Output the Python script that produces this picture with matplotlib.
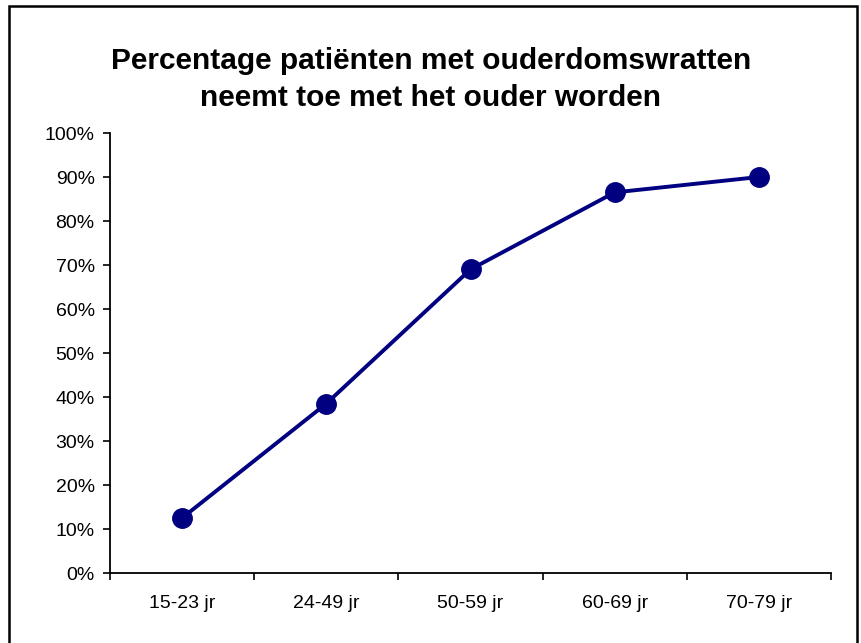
import matplotlib.pyplot as plt
from matplotlib.patches import Rectangle
from matplotlib.ticker import FuncFormatter, MultipleLocator

# Data
categories = ["15-23 jr", "24-49 jr", "50-59 jr", "60-69 jr", "70-79 jr"]
percentages = [12.5, 38.5, 69, 86.5, 90]

plt.rcParams['font.family'] = ['Liberation Sans', 'DejaVu Sans']

W, H = 862, 643
fig = plt.figure(figsize=(W / 100, H / 100), dpi=100)

# outer chart border (bottom edge runs off the image)
fig.patches.append(Rectangle((9 / W, -0.01), (857 - 9) / W, (H - 6) / H + 0.01,
                             transform=fig.transFigure, fill=False,
                             edgecolor="black", linewidth=1.8))

ax = fig.add_axes([110 / W, 1 - 573 / H, (831 - 110) / W, (573 - 133) / H])

x = list(range(len(categories)))
ax.plot(x, percentages, color="#000080", linewidth=2.8, marker="o",
        markersize=14, markerfacecolor="#000080", markeredgecolor="#000080",
        clip_on=False)

ax.set_xlim(-0.5, len(categories) - 0.5)
ax.set_ylim(0, 100)

ax.yaxis.set_major_locator(MultipleLocator(10))
ax.yaxis.set_major_formatter(FuncFormatter(lambda v, p: f"{v:.0f}%"))

# category labels centred, tick marks between categories
ax.set_xticks([i - 0.5 for i in range(len(categories) + 1)])
ax.set_xticklabels([])
ax.set_xticks(x, minor=True)
ax.set_xticklabels(categories, minor=True)
ax.tick_params(axis="x", which="minor", length=0, pad=16, labelsize=14)
ax.tick_params(axis="x", which="major", length=5, width=1.2, direction="out")
ax.tick_params(axis="y", length=5, width=1.2, direction="out", pad=6, labelsize=14)

for side in ["top", "right"]:
    ax.spines[side].set_visible(False)
for side in ["left", "bottom"]:
    ax.spines[side].set_linewidth(1.3)

fig.text(431 / W, 1 - 61 / H, "Percentage patiënten met ouderdomswratten",
         ha="center", va="center", fontsize=21.5, fontweight="bold")
fig.text(431 / W, 1 - 98 / H, "neemt toe met het ouder worden",
         ha="center", va="center", fontsize=21.5, fontweight="bold")

fig.savefig("out.png", dpi=100)
